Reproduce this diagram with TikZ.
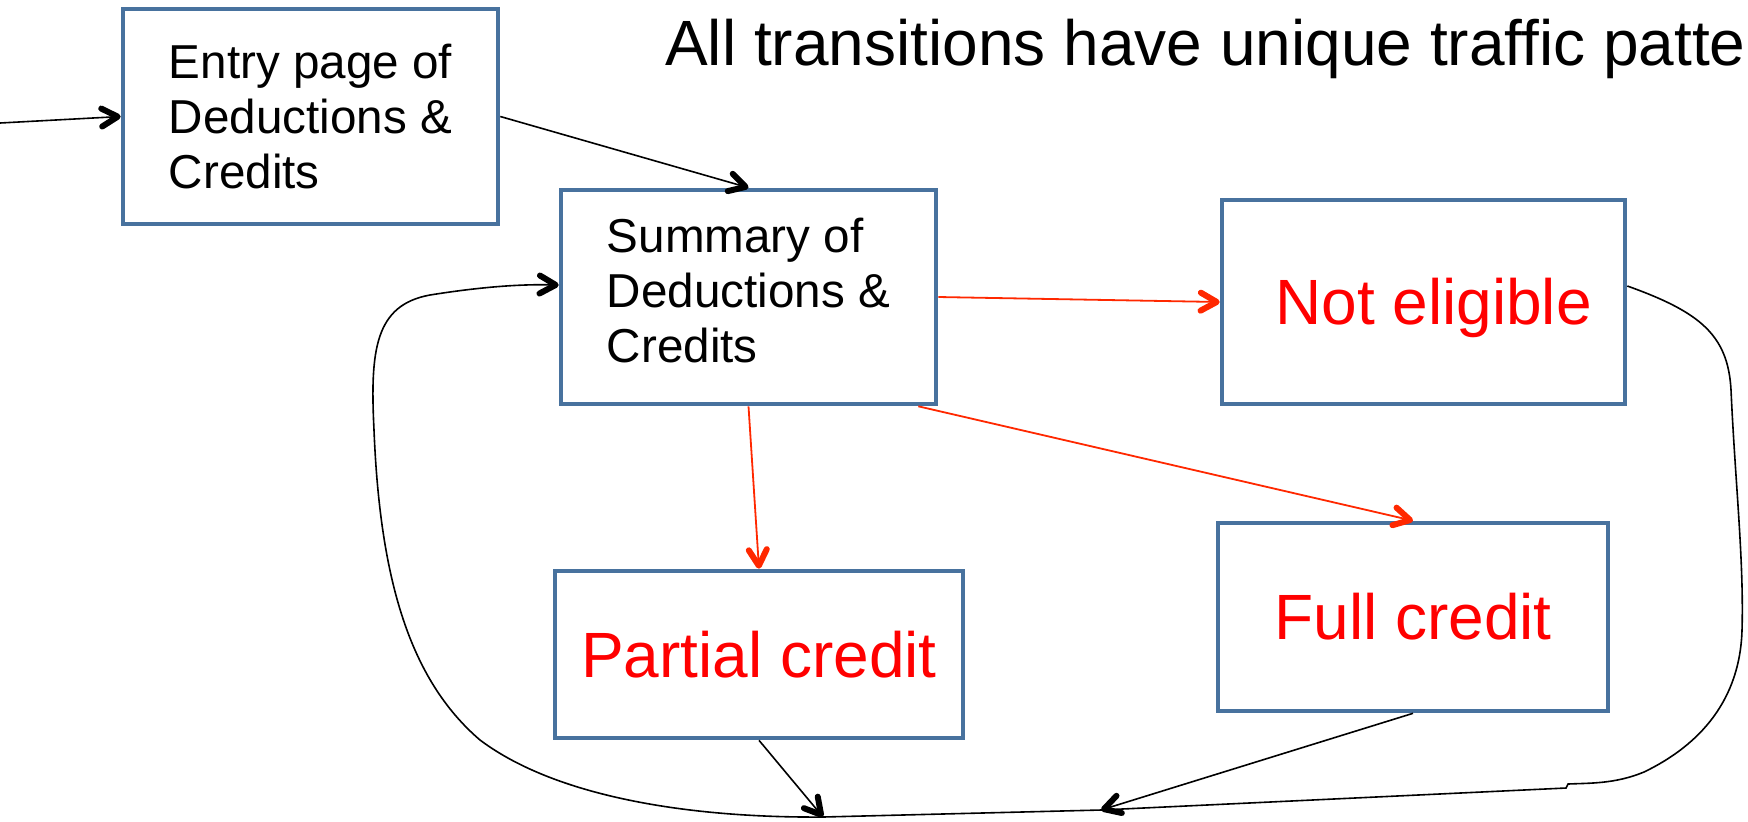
\documentclass[tikz,border=0pt]{standalone}
\usepackage{fontspec}
\setmainfont{Liberation Sans}
\usetikzlibrary{arrows.meta}
\definecolor{boxblue}{RGB}{72,114,158}
\definecolor{linered}{RGB}{255,40,0}
\definecolor{textred}{RGB}{255,0,0}
\begin{document}
\begin{tikzpicture}[x=0.5pt,y=-0.5pt,
  box/.style={draw=boxblue, line width=2.3pt, fill=white, rectangle, inner sep=0pt},
  smalltxt/.style={font=\fontsize{23.8}{27.6}\selectfont, align=left},
  bigtxt/.style={font=\fontsize{32}{38}\selectfont, text=textred},
  arrowtip/.style={-{Straight Barb[length=8pt,width=9pt,line width=3pt 0,round]}},
  conn/.style={draw=black, line width=0.8pt, arrowtip},
  redconn/.style={draw=linered, line width=0.9pt, arrowtip}]
\useasboundingbox (0,0) rectangle (1748,821);
\fill[white] (0,0) rectangle (1748,821);

% title
\node[anchor=base east, font=\fontsize{32}{38}\selectfont, inner sep=0pt] (title) at (1746,65) {All transitions have unique traffic patte};

% boxes
\node[box, smalltxt, minimum width=187.5pt, minimum height=107.5pt] (entry) at (310.5,116.5) {Entry page of\\Deductions \&\\Credits};
\node[box, smalltxt, minimum width=187.5pt, minimum height=107pt, text depth=7pt] (summary) at (748.5,297) {Summary of\\Deductions \&\\Credits};
\node[box, bigtxt, minimum width=201.5pt, minimum height=102pt, text depth=1pt] (notel) at (1423.5,302) {\hspace*{10pt}Not eligible};
\node[box, bigtxt, minimum width=204pt, minimum height=83.5pt] (partial) at (759,654.5) {Partial credit};
\node[box, bigtxt, minimum width=195pt, minimum height=94pt] (full) at (1413,617) {Full credit};

% free ends
\coordinate (in) at (0,123);
\coordinate (m1) at (823,817);
\coordinate (m2) at (1101,810);

% connectors
\draw[conn] (in) -- (entry.west);
\draw[conn] (entry.east) -- (summary.north);
\draw[redconn] (summary.east) -- (notel.west);
\draw[redconn] (summary.south) -- (partial.north);
\draw[redconn] ([xshift=-10pt]summary.south east) -- (full.north);
\draw[conn] (partial.south) -- (m1);
\draw[conn] (full.south) -- (m2);

% big return loop
\draw[conn] ([yshift=8pt]notel.east)
  .. controls (1700,312) and (1728,335) .. (1731,390)
  .. controls (1735,480) and (1744,560) .. (1742,630)
  .. controls (1740,700) and (1700,745) .. (1644,772)
  .. controls (1615,784) and (1590,783) .. (1568,784)
  -- (1566,788) -- (m2) -- (m1)
  .. controls (700,818) and (560,800) .. (480,740)
  .. controls (410,680) and (380,580) .. (374,430)
  .. controls (370,350) and (375,305) .. (430,295)
  .. controls (480,287) and (520,284) .. ([yshift=6pt]summary.west);
\end{tikzpicture}
\end{document}
